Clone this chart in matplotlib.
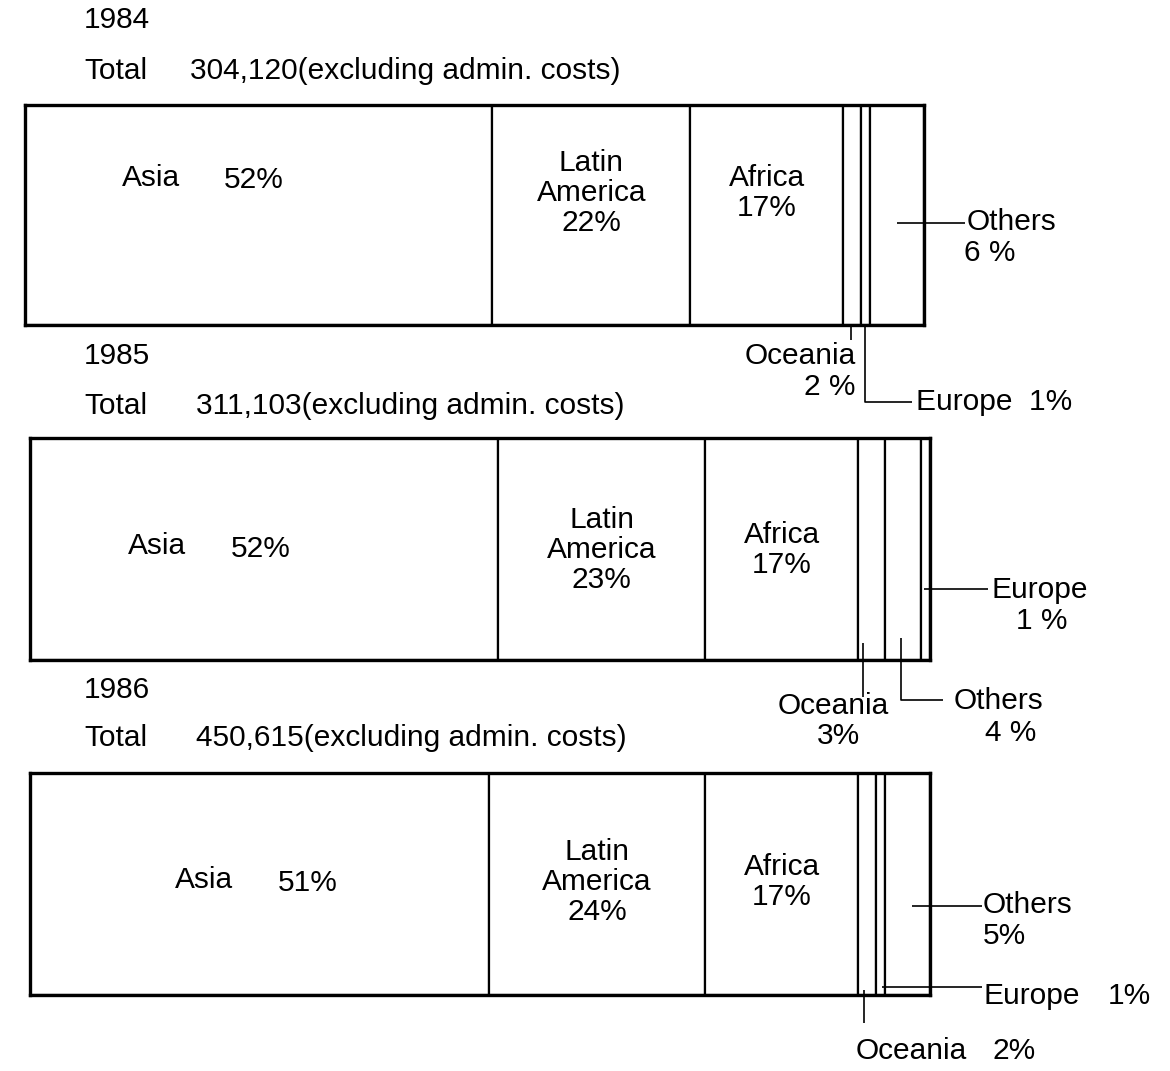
import matplotlib
matplotlib.use("Agg")
import matplotlib.pyplot as plt
import numpy as np

# ---------------- data ----------------
years = ["1984", "1985", "1986"]
totals = ["304,120", "311,103", "450,615"]
regions = ["Asia", "Latin America", "Africa", "Oceania", "Europe", "Others"]
asia = [52, 52, 51]
latin_america = [22, 23, 24]
africa = [17, 17, 17]
oceania = [2, 3, 2]
europe = [1, 1, 1]
others = [6, 4, 5]
# order of the small segments inside each bar
small_order = [["Oceania", "Europe", "Others"],
               ["Oceania", "Others", "Europe"],
               ["Oceania", "Europe", "Others"]]
# label texts as printed
small_labels = [
    {"Oceania": ["Oceania", "2 %"], "Europe": ["Europe  1%"], "Others": ["Others", "6 %"]},
    {"Oceania": ["Oceania", "3%"], "Europe": ["Europe", "1 %"], "Others": ["Others", "4 %"]},
    {"Oceania": ["Oceania", "2%"], "Europe": ["Europe", "1%"], "Others": ["Others", "5%"]},
]

# ---------------- layout ----------------
W, H = 1170, 1071
FS = 21.5
FONT = "Liberation Sans"
plt.rcParams["font.family"] = [FONT, "DejaVu Sans"]

fig = plt.figure(figsize=(W / 100, H / 100), dpi=100)
fig.patch.set_facecolor("white")

geo = [(25, 924, 105, 325), (30, 930, 438, 660), (30, 930, 773, 995)]  # l, r, t, b (px)


def ftext(x, y, s, ha="left", **kw):
    fig.text(x / W, 1 - y / H, s, ha=ha, va="center", fontsize=FS, color="black", **kw)


def to_data(g, x, y):
    l, r, t, b = g
    return (x - l) / (r - l) * 100.0, (b - y) / (b - t)


header = [(20, 71, 190), (356, 406, 196), (690, 738, 196)]
asia_pos = [((122, 178), (224, 180)), ((128, 546), (231, 549)), ((175, 880), (278, 883))]
mid_y = [193, 550, 882]

# leader specs (pixel layout): anchor fraction inside segment, path points, text positions
leaders = [
    {
        "Others": (0.5, [("seg", 223), (965, 223)], [(967, 222, "left"), (964, 253, "left")]),
        "Oceania": (0.45, [("seg", 325), ("seg", 340)], [(856, 356, "right"), (856, 387, "right")]),
        "Europe": (0.4, [("seg", 325), ("seg", 402), (912, 402)], [(916, 402, "left")]),
    },
    {
        "Europe": (0.3, [("seg", 589), (988, 589)], [(992, 590, "left"), (1042, 621, "center")]),
        "Oceania": (0.2, [("seg", 643), ("seg", 697)], [(833, 706, "center"), (838, 736, "center")]),
        "Others": (0.45, [("seg", 638), ("seg", 700), (943, 700)], [(954, 701, "left"), (985, 733, "left")]),
    },
    {
        "Others": (0.6, [("seg", 906), (982, 906)], [(983, 905, "left"), (983, 936, "left")]),
        "Europe": (0.7, [("seg", 987), (982, 987)], [(983, 996, "left"), (1108, 996, "left")]),
        "Oceania": (0.35, [("seg", 990), ("seg", 1023)], [(856, 1051, "left"), (992, 1051, "left")]),
    },
]

for i, yr in enumerate(years):
    g = geo[i]
    l, r, t, b = g
    ax = fig.add_axes([l / W, 1 - b / H, (r - l) / W, (b - t) / H])
    ax.set_xlim(0, 100)
    ax.set_ylim(0, 1)
    ax.set_xticks([])
    ax.set_yticks([])
    for sp in ax.spines.values():
        sp.set_linewidth(2.4)
        sp.set_color("black")
    vals = {"Asia": asia[i], "Latin America": latin_america[i], "Africa": africa[i],
            "Oceania": oceania[i], "Europe": europe[i], "Others": others[i]}
    order = ["Asia", "Latin America", "Africa"] + small_order[i]
    widths = [vals[k] for k in order]
    lefts = np.concatenate([[0], np.cumsum(widths)[:-1]])
    ax.barh(0.5, widths, left=lefts, height=1.0, color="white", edgecolor="black",
            linewidth=1.6)
    seg = {k: (lefts[j], widths[j]) for j, k in enumerate(order)}

    # headers
    ftext(84, header[i][0], yr)
    ftext(84, header[i][1], "Total")
    ftext(header[i][2], header[i][1], f"{totals[i]}(excluding admin. costs)")

    # big segment labels
    (ax1, ay1), (ax2, ay2) = asia_pos[i]
    ftext(ax1, ay1, "Asia")
    ftext(ax2, ay2, f"{asia[i]}%")
    for name, txt in [("Latin America", f"Latin\nAmerica\n{latin_america[i]}%"),
                      ("Africa", f"Africa\n{africa[i]}%")]:
        s0, w0 = seg[name]
        ax.text(s0 + w0 / 2, to_data(g, 0, mid_y[i])[1], txt, ha="center", va="center",
                fontsize=FS, linespacing=1.08, multialignment="center")

    # small segment leaders
    for name, (frac, path, tpos) in leaders[i].items():
        s0, w0 = seg[name]
        xs, ys = [], []
        for px, py in path:
            dx, dy = to_data(g, 0 if px == "seg" else px, py)
            if px == "seg":
                dx = s0 + frac * w0
            xs.append(dx)
            ys.append(dy)
        ax.plot(xs, ys, color="black", lw=1.2, clip_on=False, solid_capstyle="butt")
        for (tx, ty, ha), s in zip(tpos, small_labels[i][name]):
            ftext(tx, ty, s, ha=ha)

fig.savefig("out.png", dpi=100, facecolor="white")
